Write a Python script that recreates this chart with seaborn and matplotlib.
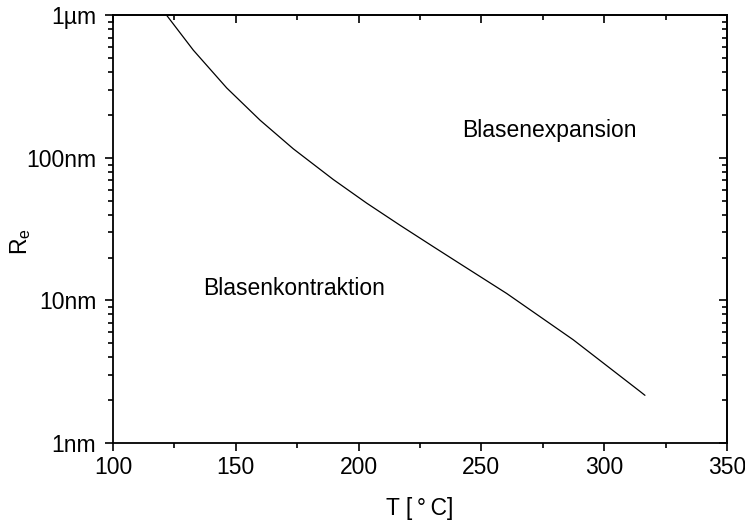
import numpy as np
import pandas as pd
import matplotlib
matplotlib.use('Agg')
import matplotlib.pyplot as plt
from matplotlib.ticker import FixedLocator, LogLocator, MultipleLocator, NullFormatter
import seaborn as sns

# Critical radius R_e (nm) vs temperature T (degC)
temp_c = [121.9, 132.7, 146.3, 159.9, 173.4, 189.7, 203.3, 216.9, 230.5, 241.3, 260.3, 287.4, 314.6, 316.6]
radius_nm = [1000, 571, 310, 184, 116, 70.6, 48.2, 33.7, 23.8, 18.1, 11.2, 5.30, 2.30, 2.16]

ytick_vals = [1, 10, 100, 1000]
ytick_labels = ['1nm', '10nm', '100nm', '1µm']
xtick_vals = [100, 150, 200, 250, 300, 350]

df = pd.DataFrame({'T': temp_c, 'R': radius_nm})

sns.set_style('ticks')
plt.rcParams['font.family'] = ['Liberation Sans', 'DejaVu Sans']
plt.rcParams['mathtext.fontset'] = 'custom'
plt.rcParams['mathtext.rm'] = 'Liberation Sans'
plt.rcParams['text.color'] = 'black'
plt.rcParams['axes.labelcolor'] = 'black'

fig = plt.figure(figsize=(7.45, 5.23), dpi=100)
ax = fig.add_axes([0.1517, 0.153, 0.8241, 0.8174])

sns.lineplot(data=df, x='T', y='R', ax=ax, color='black', linewidth=0.9, sort=False)

ax.set_yscale('log')
ax.set_xlim(100, 350)
ax.set_ylim(1, 1000)

ax.yaxis.set_major_locator(FixedLocator(ytick_vals))
ax.set_yticklabels(ytick_labels)
ax.yaxis.set_minor_locator(LogLocator(base=10, subs=np.arange(2, 10)))
ax.yaxis.set_minor_formatter(NullFormatter())
ax.xaxis.set_major_locator(FixedLocator(xtick_vals))
ax.xaxis.set_minor_locator(MultipleLocator(25))

for s in ax.spines.values():
    s.set_visible(True)
    s.set_linewidth(1.3)
    s.set_color('black')

# left/bottom ticks outward, mirrored top/right ticks inward
ax.tick_params(which='both', direction='out', labelsize=16.5, width=1.2, colors='black')
ax.tick_params(which='major', length=6)
ax.tick_params(which='minor', length=3.5)
ax.tick_params(axis='y', which='major', pad=6)
ax2 = ax.secondary_xaxis('top')
ax2.xaxis.set_major_locator(FixedLocator(xtick_vals))
ax2.xaxis.set_minor_locator(MultipleLocator(25))
ax2.tick_params(which='both', direction='in', labeltop=False, width=1.2, colors='black')
ax2.tick_params(which='major', length=6)
ax2.tick_params(which='minor', length=3.5)
ax2.spines['top'].set_linewidth(1.3)
ax3 = ax.secondary_yaxis('right')
ax3.yaxis.set_major_locator(FixedLocator(ytick_vals))
ax3.yaxis.set_minor_locator(LogLocator(base=10, subs=np.arange(2, 10)))
ax3.yaxis.set_minor_formatter(NullFormatter())
ax3.tick_params(which='both', direction='in', labelright=False, width=1.2, colors='black')
ax3.tick_params(which='major', length=6)
ax3.tick_params(which='minor', length=3.5)
ax3.spines['right'].set_linewidth(1.3)

ax.set_xlabel('T [\u2009°\u2009C]', fontsize=16.5, labelpad=13, color='black')
ax.set_ylabel(r'R$_\mathregular{e}$', fontsize=16.5, color='black')
ax.yaxis.set_label_coords(-0.13, 0.47)

ax.text(277.5, 157, 'Blasenexpansion', fontsize=16.5, ha='center', va='center', color='black')
ax.text(173.7, 12.2, 'Blasenkontraktion', fontsize=16.5, ha='center', va='center', color='black')

fig.savefig('out.png', dpi=100)
plt.close(fig)
